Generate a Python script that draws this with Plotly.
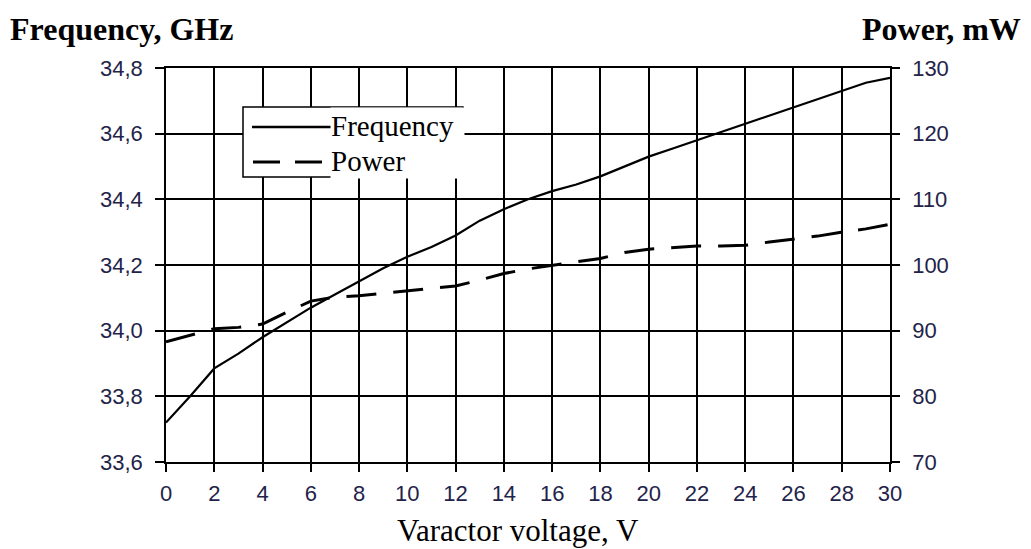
import plotly.graph_objects as go

# ---- data ----
voltage = [0, 1, 2, 3, 4, 5, 6, 7, 8, 9, 10, 11, 12, 13, 14, 15,
           16, 17, 18, 19, 20, 21, 22, 23, 24, 25, 26, 27, 28, 29, 30]
frequency_ghz = [33.72, 33.80, 33.885, 33.93, 33.98, 34.025, 34.07, 34.11, 34.15, 34.19,
                 34.225, 34.255, 34.29, 34.335, 34.37, 34.40, 34.425, 34.445, 34.47, 34.50,
                 34.53, 34.555, 34.58, 34.605, 34.63, 34.655, 34.68, 34.705, 34.73, 34.755, 34.77]
power_mw = [88.3, 89.3, 90.3, 90.5, 91.0, 92.8, 94.5, 95.1, 95.3, 95.7,
            96.1, 96.4, 96.8, 97.7, 98.7, 99.4, 100.0, 100.5, 101.0, 101.9,
            102.4, 102.6, 102.9, 102.9, 103.0, 103.5, 103.9, 104.4, 105.0, 105.5, 106.2]

x_ticks = list(range(0, 31, 2))
freq_ticks = [33.6, 33.8, 34.0, 34.2, 34.4, 34.6, 34.8]
power_ticks = [70, 80, 90, 100, 110, 120, 130]

# ---- layout geometry (pixels) ----
W, H = 1031, 549
L, R, T, B = 166, 890, 68, 462


def px(xp):
    return (xp - L) / (R - L)


def py(yp):
    return (B - yp) / (B - T)


tick_font = dict(family="Liberation Sans, Arial", size=22, color="#23234a")
serif = "Liberation Serif, Times New Roman"

fig = go.Figure()
fig.add_trace(go.Scatter(x=voltage, y=frequency_ghz, mode="lines", name="Frequency",
                         line=dict(color="black", width=2.2), yaxis="y"))
fig.add_trace(go.Scatter(x=voltage, y=power_mw, mode="lines", name="Power",
                         line=dict(color="black", width=3, dash="30px,17px"), yaxis="y2"))

fig.update_layout(
    width=W, height=H,
    margin=dict(l=L, r=W - R, t=T, b=H - B),
    paper_bgcolor="white", plot_bgcolor="white",
    separators=", ",
    showlegend=False,
    xaxis=dict(range=[0, 30], tickvals=x_ticks, showgrid=True, gridcolor="black", gridwidth=1.5,
               showline=True, linecolor="black", linewidth=1.5, mirror=True,
               ticks="outside", ticklen=8, tickcolor="black", tickwidth=1.5,
               tickfont=tick_font, ticklabelstandoff=3, zeroline=False),
    yaxis=dict(range=[33.6, 34.8], tickvals=freq_ticks, tickformat=".1f",
               showgrid=True, gridcolor="black", gridwidth=1.5,
               showline=True, linecolor="black", linewidth=1.5,
               ticks="outside", ticklen=9, tickcolor="black", tickwidth=1.5,
               tickfont=tick_font, ticklabelstandoff=8, zeroline=False),
    yaxis2=dict(range=[70, 130], tickvals=power_ticks, overlaying="y", side="right",
                showgrid=False, showline=True, linecolor="black", linewidth=1.5,
                ticks="outside", ticklen=8, tickcolor="black", tickwidth=1.5,
                tickfont=tick_font, ticklabelstandoff=8, zeroline=False),
)

# ---- manual legend ----
shapes = [
    dict(type="rect", xref="paper", yref="paper", x0=px(243), x1=px(463), y0=py(177), y1=py(107),
         fillcolor="white", line=dict(color="black", width=1.5), layer="above"),
    dict(type="line", xref="paper", yref="paper", x0=px(252), x1=px(331), y0=py(127), y1=py(127),
         line=dict(color="black", width=2.5), layer="above"),
    dict(type="line", xref="paper", yref="paper", x0=px(253), x1=px(280), y0=py(162), y1=py(162),
         line=dict(color="black", width=3), layer="above"),
    dict(type="line", xref="paper", yref="paper", x0=px(295), x1=px(322), y0=py(162), y1=py(162),
         line=dict(color="black", width=3), layer="above"),
]
fig.update_layout(shapes=shapes)

annotations = [
    dict(text="Frequency", x=px(330), y=py(126), xanchor="left", yanchor="middle",
         width=133, height=36, align="left", bgcolor="white", borderpad=0,
         font=dict(family=serif, size=29, color="black")),
    dict(text="Power", x=px(330), y=py(161), xanchor="left", yanchor="middle",
         width=133, height=34, align="left", bgcolor="white", borderpad=0,
         font=dict(family=serif, size=29, color="black")),
    dict(text="<b>Frequency, GHz</b>", x=px(8), y=py(29), xanchor="left", yanchor="middle",
         font=dict(family=serif, size=32, color="black")),
    dict(text="<b>Power, mW</b>", x=px(1023), y=py(29), xanchor="right", yanchor="middle",
         font=dict(family=serif, size=32, color="black")),
    dict(text="Varactor voltage, V", x=px(518), y=py(530), xanchor="center", yanchor="middle",
         font=dict(family=serif, size=31, color="black")),
]
for a in annotations:
    a.update(xref="paper", yref="paper", showarrow=False)
fig.update_layout(annotations=annotations)

fig.write_html("out.html", config={"displayModeBar": False},
               post_script="document.body.style.margin='0';document.body.style.padding='0';"
                           "document.body.style.overflow='hidden';")
